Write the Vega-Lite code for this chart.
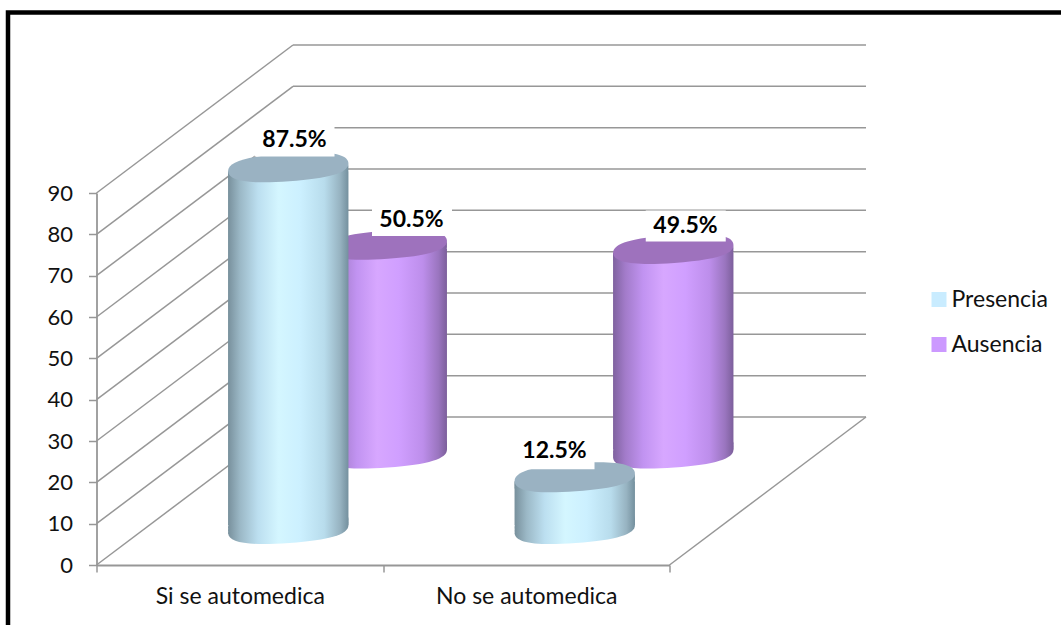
{
  "$schema": "https://vega.github.io/schema/vega-lite/v6.json",
  "width": 573,
  "height": 372,
  "autosize": {"type": "none"},
  "padding": {"left": 96.5, "top": 193, "right": 391.5, "bottom": 60},
  "background": "white",
  "config": {"view": {"stroke": null}, "font": "Lato"},
  "datasets": {
    "results": [
      {"category": "Si se automedica", "series": "Presencia", "value": 87.5, "label": "87.5%"},
      {"category": "Si se automedica", "series": "Ausencia", "value": 50.5, "label": "50.5%"},
      {"category": "No se automedica", "series": "Presencia", "value": 12.5, "label": "12.5%"},
      {"category": "No se automedica", "series": "Ausencia", "value": 49.5, "label": "49.5%"}
    ],
    "levels": [
      {"v": 0}, {"v": 10}, {"v": 20}, {"v": 30}, {"v": 40},
      {"v": 50}, {"v": 60}, {"v": 70}, {"v": 80}, {"v": 90}
    ]
  },
  "layer": [
    {
      "description": "Outer frame of the figure",
      "data": {"values": [{"frame": 1}]},
      "mark": {"type": "rect", "fill": null, "fillOpacity": 0, "stroke": "black", "strokeWidth": 4.5},
      "encoding": {
        "x": {"value": -88.5},
        "x2": {"value": 1000},
        "y": {"value": -180.5},
        "y2": {"value": 460}
      }
    },
    {
      "description": "Back wall gridlines, with the value axis",
      "data": {"name": "levels"},
      "mark": {"type": "rule", "color": "#979797", "strokeWidth": 1.5, "yOffset": -148},
      "encoding": {
        "x": {"value": 196.5},
        "x2": {"value": 769.5},
        "y": {
          "field": "v",
          "type": "quantitative",
          "scale": {"domain": [0, 90], "nice": false, "zero": false},
          "axis": {
            "title": null,
            "values": [0, 10, 20, 30, 40, 50, 60, 70, 80, 90],
            "grid": false,
            "domainColor": "#979797",
            "domainWidth": 1.8,
            "tickColor": "#979797",
            "tickWidth": 1.5,
            "tickSize": 8,
            "labelFontSize": 22,
            "labelColor": "#111111",
            "labelPadding": 16
          }
        }
      }
    },
    {
      "description": "Side wall diagonals running back from the value axis",
      "data": {"name": "levels"},
      "mark": {"type": "rule", "color": "#979797", "strokeWidth": 1.5, "y2Offset": -148},
      "encoding": {
        "x": {"value": 0},
        "x2": {"value": 196.5},
        "y": {"field": "v", "type": "quantitative"},
        "y2": {"field": "v"}
      }
    },
    {
      "description": "Right edge of the floor",
      "data": {"values": [{"v": 0}]},
      "mark": {"type": "rule", "color": "#979797", "strokeWidth": 1.5, "y2Offset": -148},
      "encoding": {
        "x": {"value": 573},
        "x2": {"value": 769.5},
        "y": {"field": "v", "type": "quantitative"},
        "y2": {"field": "v"}
      }
    },
    {
      "description": "Cylinders and their labels",
      "data": {"name": "results"},
      "encoding": {
        "x": {
          "field": "category",
          "type": "nominal",
          "sort": ["Si se automedica", "No se automedica"],
          "scale": {
            "type": "band",
            "domain": ["Si se automedica", "No se automedica"],
            "paddingInner": 0,
            "paddingOuter": 0
          },
          "axis": {
            "title": null,
            "labelAngle": 0,
            "labelLimit": 400,
            "domainColor": "#979797",
            "domainWidth": 1.8,
            "tickColor": "#979797",
            "tickWidth": 1.5,
            "tickSize": 7,
            "tickBand": "extent",
            "labelFontSize": 23,
            "labelColor": "#111111",
            "labelPadding": 13
          }
        },
        "y": {"field": "value", "type": "quantitative"}
      },
      "layer": [
        {
          "transform": [{"filter": "datum.series === 'Ausencia'"}],
          "layer": [
            {
              "mark": {"type": "point", "filled": true, "opacity": 1, "size": 14544, "xOffset": 147, "yOffset": -111.5,
                "shape": "M-0.9976,0.0698 C-1.0087,-0.0882 -0.6947,-0.1849 -0.0163,-0.2324 C0.6621,-0.2799 0.9865,-0.2278 0.9976,-0.0698 C1.0087,0.0882 0.6947,0.1849 0.0163,0.2324 C-0.6621,0.2799 -0.9865,0.2278 -0.9976,0.0698 Z",
                "fill": {"gradient": "linear", "x1": 0, "x2": 1, "y1": 0, "y2": 0, "stops": [{"offset": 0, "color": "#7f629f"}, {"offset": 0.1, "color": "#a27bc9"}, {"offset": 0.25, "color": "#c193f1"}, {"offset": 0.42, "color": "#d7a7ff"}, {"offset": 0.6, "color": "#d09fff"}, {"offset": 0.8, "color": "#bd8eeb"}, {"offset": 0.93, "color": "#9a75bf"}, {"offset": 1, "color": "#7c5f9b"}]}},
              "encoding": {"y": {"datum": 0, "type": "quantitative"}}
            },
            {
              "mark": {"type": "point", "filled": true, "opacity": 1, "size": 14544, "xOffset": 147, "yOffset": -114.5,
                "shape": "M-0.9976,0.0698 C-1.0087,-0.0882 -0.6947,-0.1849 -0.0163,-0.2324 C0.6621,-0.2799 0.9865,-0.2278 0.9976,-0.0698 C1.0087,0.0882 0.6947,0.1849 0.0163,0.2324 C-0.6621,0.2799 -0.9865,0.2278 -0.9976,0.0698 Z",
                "fill": {"gradient": "linear", "x1": 0, "x2": 1, "y1": 0, "y2": 0, "stops": [{"offset": 0, "color": "#7f629f"}, {"offset": 0.1, "color": "#a27bc9"}, {"offset": 0.25, "color": "#c193f1"}, {"offset": 0.42, "color": "#d7a7ff"}, {"offset": 0.6, "color": "#d09fff"}, {"offset": 0.8, "color": "#bd8eeb"}, {"offset": 0.93, "color": "#9a75bf"}, {"offset": 1, "color": "#7c5f9b"}]}},
              "encoding": {"y": {"datum": 0, "type": "quantitative"}}
            },
            {
              "mark": {"type": "point", "filled": true, "opacity": 1, "size": 14544, "xOffset": 147, "yOffset": -117.5,
                "shape": "M-0.9976,0.0698 C-1.0087,-0.0882 -0.6947,-0.1849 -0.0163,-0.2324 C0.6621,-0.2799 0.9865,-0.2278 0.9976,-0.0698 C1.0087,0.0882 0.6947,0.1849 0.0163,0.2324 C-0.6621,0.2799 -0.9865,0.2278 -0.9976,0.0698 Z",
                "fill": {"gradient": "linear", "x1": 0, "x2": 1, "y1": 0, "y2": 0, "stops": [{"offset": 0, "color": "#7f629f"}, {"offset": 0.1, "color": "#a27bc9"}, {"offset": 0.25, "color": "#c193f1"}, {"offset": 0.42, "color": "#d7a7ff"}, {"offset": 0.6, "color": "#d09fff"}, {"offset": 0.8, "color": "#bd8eeb"}, {"offset": 0.93, "color": "#9a75bf"}, {"offset": 1, "color": "#7c5f9b"}]}},
              "encoding": {"y": {"datum": 0, "type": "quantitative"}}
            },
            {
              "mark": {"type": "bar", "width": 120.4, "xOffset": 147, "yOffset": -107.5, "y2Offset": -115.5,
                "fill": {"gradient": "linear", "x1": 0, "x2": 1, "y1": 0, "y2": 0, "stops": [{"offset": 0, "color": "#7f629f"}, {"offset": 0.1, "color": "#a27bc9"}, {"offset": 0.25, "color": "#c193f1"}, {"offset": 0.42, "color": "#d7a7ff"}, {"offset": 0.6, "color": "#d09fff"}, {"offset": 0.8, "color": "#bd8eeb"}, {"offset": 0.93, "color": "#9a75bf"}, {"offset": 1, "color": "#7c5f9b"}]}},
              "encoding": {"y2": {"datum": 0}}
            },
            {
              "mark": {"type": "point", "filled": true, "opacity": 1, "size": 14544, "xOffset": 147, "yOffset": -105.5,
                "shape": "M-0.9976,0.0698 C-1.0087,-0.0882 -0.6947,-0.1849 -0.0163,-0.2324 C0.6621,-0.2799 0.9865,-0.2278 0.9976,-0.0698 C1.0087,0.0882 0.6947,0.1849 0.0163,0.2324 C-0.6621,0.2799 -0.9865,0.2278 -0.9976,0.0698 Z",
                "fill": {"gradient": "linear", "x1": 0, "x2": 1, "y1": 0, "y2": 0, "stops": [{"offset": 0, "color": "#7f629f"}, {"offset": 0.1, "color": "#a27bc9"}, {"offset": 0.25, "color": "#c193f1"}, {"offset": 0.42, "color": "#d7a7ff"}, {"offset": 0.6, "color": "#d09fff"}, {"offset": 0.8, "color": "#bd8eeb"}, {"offset": 0.93, "color": "#9a75bf"}, {"offset": 1, "color": "#7c5f9b"}]}}
            },
            {
              "mark": {"type": "point", "filled": true, "opacity": 1, "size": 14544, "xOffset": 147, "yOffset": -108.5,
                "shape": "M-0.9976,0.0698 C-1.0087,-0.0882 -0.6947,-0.1849 -0.0163,-0.2324 C0.6621,-0.2799 0.9865,-0.2278 0.9976,-0.0698 C1.0087,0.0882 0.6947,0.1849 0.0163,0.2324 C-0.6621,0.2799 -0.9865,0.2278 -0.9976,0.0698 Z",
                "fill": {"gradient": "linear", "x1": 0, "x2": 1, "y1": 0, "y2": 0, "stops": [{"offset": 0, "color": "#7f629f"}, {"offset": 0.1, "color": "#a27bc9"}, {"offset": 0.25, "color": "#c193f1"}, {"offset": 0.42, "color": "#d7a7ff"}, {"offset": 0.6, "color": "#d09fff"}, {"offset": 0.8, "color": "#bd8eeb"}, {"offset": 0.93, "color": "#9a75bf"}, {"offset": 1, "color": "#7c5f9b"}]}}
            },
            {
              "mark": {"type": "point", "filled": true, "opacity": 1, "size": 14544, "xOffset": 147, "yOffset": -111.5, "fill": "#9e72bd",
                "shape": "M-0.9976,0.0698 C-1.0087,-0.0882 -0.6947,-0.1849 -0.0163,-0.2324 C0.6621,-0.2799 0.9865,-0.2278 0.9976,-0.0698 C1.0087,0.0882 0.6947,0.1849 0.0163,0.2324 C-0.6621,0.2799 -0.9865,0.2278 -0.9976,0.0698 Z"}
            }
          ]
        },
        {
          "transform": [{"filter": "datum.series === 'Presencia'"}],
          "layer": [
            {
              "mark": {"type": "point", "filled": true, "opacity": 1, "size": 14544, "xOffset": 48.5, "yOffset": -36,
                "shape": "M-0.9976,0.0698 C-1.0087,-0.0882 -0.6947,-0.1849 -0.0163,-0.2324 C0.6621,-0.2799 0.9865,-0.2278 0.9976,-0.0698 C1.0087,0.0882 0.6947,0.1849 0.0163,0.2324 C-0.6621,0.2799 -0.9865,0.2278 -0.9976,0.0698 Z",
                "fill": {"gradient": "linear", "x1": 0, "x2": 1, "y1": 0, "y2": 0, "stops": [{"offset": 0, "color": "#78909c"}, {"offset": 0.1, "color": "#9bb8c6"}, {"offset": 0.25, "color": "#bcdff0"}, {"offset": 0.42, "color": "#d4f6ff"}, {"offset": 0.6, "color": "#ccf0ff"}, {"offset": 0.8, "color": "#b8dcec"}, {"offset": 0.93, "color": "#97b3c1"}, {"offset": 1, "color": "#74909e"}]}},
              "encoding": {"y": {"datum": 0, "type": "quantitative"}}
            },
            {
              "mark": {"type": "point", "filled": true, "opacity": 1, "size": 14544, "xOffset": 48.5, "yOffset": -39,
                "shape": "M-0.9976,0.0698 C-1.0087,-0.0882 -0.6947,-0.1849 -0.0163,-0.2324 C0.6621,-0.2799 0.9865,-0.2278 0.9976,-0.0698 C1.0087,0.0882 0.6947,0.1849 0.0163,0.2324 C-0.6621,0.2799 -0.9865,0.2278 -0.9976,0.0698 Z",
                "fill": {"gradient": "linear", "x1": 0, "x2": 1, "y1": 0, "y2": 0, "stops": [{"offset": 0, "color": "#78909c"}, {"offset": 0.1, "color": "#9bb8c6"}, {"offset": 0.25, "color": "#bcdff0"}, {"offset": 0.42, "color": "#d4f6ff"}, {"offset": 0.6, "color": "#ccf0ff"}, {"offset": 0.8, "color": "#b8dcec"}, {"offset": 0.93, "color": "#97b3c1"}, {"offset": 1, "color": "#74909e"}]}},
              "encoding": {"y": {"datum": 0, "type": "quantitative"}}
            },
            {
              "mark": {"type": "point", "filled": true, "opacity": 1, "size": 14544, "xOffset": 48.5, "yOffset": -42,
                "shape": "M-0.9976,0.0698 C-1.0087,-0.0882 -0.6947,-0.1849 -0.0163,-0.2324 C0.6621,-0.2799 0.9865,-0.2278 0.9976,-0.0698 C1.0087,0.0882 0.6947,0.1849 0.0163,0.2324 C-0.6621,0.2799 -0.9865,0.2278 -0.9976,0.0698 Z",
                "fill": {"gradient": "linear", "x1": 0, "x2": 1, "y1": 0, "y2": 0, "stops": [{"offset": 0, "color": "#78909c"}, {"offset": 0.1, "color": "#9bb8c6"}, {"offset": 0.25, "color": "#bcdff0"}, {"offset": 0.42, "color": "#d4f6ff"}, {"offset": 0.6, "color": "#ccf0ff"}, {"offset": 0.8, "color": "#b8dcec"}, {"offset": 0.93, "color": "#97b3c1"}, {"offset": 1, "color": "#74909e"}]}},
              "encoding": {"y": {"datum": 0, "type": "quantitative"}}
            },
            {
              "mark": {"type": "bar", "width": 120.4, "xOffset": 48.5, "yOffset": -32, "y2Offset": -40,
                "fill": {"gradient": "linear", "x1": 0, "x2": 1, "y1": 0, "y2": 0, "stops": [{"offset": 0, "color": "#78909c"}, {"offset": 0.1, "color": "#9bb8c6"}, {"offset": 0.25, "color": "#bcdff0"}, {"offset": 0.42, "color": "#d4f6ff"}, {"offset": 0.6, "color": "#ccf0ff"}, {"offset": 0.8, "color": "#b8dcec"}, {"offset": 0.93, "color": "#97b3c1"}, {"offset": 1, "color": "#74909e"}]}},
              "encoding": {"y2": {"datum": 0}}
            },
            {
              "mark": {"type": "point", "filled": true, "opacity": 1, "size": 14544, "xOffset": 48.5, "yOffset": -30,
                "shape": "M-0.9976,0.0698 C-1.0087,-0.0882 -0.6947,-0.1849 -0.0163,-0.2324 C0.6621,-0.2799 0.9865,-0.2278 0.9976,-0.0698 C1.0087,0.0882 0.6947,0.1849 0.0163,0.2324 C-0.6621,0.2799 -0.9865,0.2278 -0.9976,0.0698 Z",
                "fill": {"gradient": "linear", "x1": 0, "x2": 1, "y1": 0, "y2": 0, "stops": [{"offset": 0, "color": "#78909c"}, {"offset": 0.1, "color": "#9bb8c6"}, {"offset": 0.25, "color": "#bcdff0"}, {"offset": 0.42, "color": "#d4f6ff"}, {"offset": 0.6, "color": "#ccf0ff"}, {"offset": 0.8, "color": "#b8dcec"}, {"offset": 0.93, "color": "#97b3c1"}, {"offset": 1, "color": "#74909e"}]}}
            },
            {
              "mark": {"type": "point", "filled": true, "opacity": 1, "size": 14544, "xOffset": 48.5, "yOffset": -33,
                "shape": "M-0.9976,0.0698 C-1.0087,-0.0882 -0.6947,-0.1849 -0.0163,-0.2324 C0.6621,-0.2799 0.9865,-0.2278 0.9976,-0.0698 C1.0087,0.0882 0.6947,0.1849 0.0163,0.2324 C-0.6621,0.2799 -0.9865,0.2278 -0.9976,0.0698 Z",
                "fill": {"gradient": "linear", "x1": 0, "x2": 1, "y1": 0, "y2": 0, "stops": [{"offset": 0, "color": "#78909c"}, {"offset": 0.1, "color": "#9bb8c6"}, {"offset": 0.25, "color": "#bcdff0"}, {"offset": 0.42, "color": "#d4f6ff"}, {"offset": 0.6, "color": "#ccf0ff"}, {"offset": 0.8, "color": "#b8dcec"}, {"offset": 0.93, "color": "#97b3c1"}, {"offset": 1, "color": "#74909e"}]}}
            },
            {
              "mark": {"type": "point", "filled": true, "opacity": 1, "size": 14544, "xOffset": 48.5, "yOffset": -36, "fill": "#9ab2c2",
                "shape": "M-0.9976,0.0698 C-1.0087,-0.0882 -0.6947,-0.1849 -0.0163,-0.2324 C0.6621,-0.2799 0.9865,-0.2278 0.9976,-0.0698 C1.0087,0.0882 0.6947,0.1849 0.0163,0.2324 C-0.6621,0.2799 -0.9865,0.2278 -0.9976,0.0698 Z"}
            }
          ]
        },
        {
          "description": "Zero-size points that carry the series legend",
          "mark": {"type": "point", "filled": true, "shape": "square", "size": 0, "opacity": 1},
          "encoding": {
            "color": {
              "field": "series",
              "type": "nominal",
              "scale": {"domain": ["Presencia", "Ausencia"], "range": ["#c9ecff", "#cc99ff"]},
              "legend": {
                "title": null,
                "orient": "none",
                "legendX": 831,
                "legendY": 95,
                "padding": 0,
                "symbolType": "square",
                "symbolSize": 225,
                "symbolStrokeWidth": 0,
                "labelFontSize": 23,
                "labelColor": "#111111",
                "labelOffset": 1,
                "rowPadding": 21
              }
            }
          }
        },
        {
          "transform": [{"filter": "datum.value === 87.5"}],
          "layer": [
            {
              "mark": {"type": "point", "filled": true, "opacity": 1, "fill": "white", "size": 6400, "xOffset": 54.75, "yOffset": -62.4, "shape": "M-1,-0.39 H1 V0.39 H-1 Z"}
            },
            {
              "mark": {"type": "text", "fontWeight": "bold", "fontSize": 23, "color": "black", "dx": 54.75, "dy": -63.4, "baseline": "middle"},
              "encoding": {"text": {"field": "label"}}
            }
          ]
        },
        {
          "transform": [{"filter": "datum.value === 50.5"}],
          "layer": [
            {
              "mark": {"type": "point", "filled": true, "opacity": 1, "fill": "white", "size": 6400, "xOffset": 172.25, "yOffset": -135.9, "shape": "M-1,-0.39 H1 V0.39 H-1 Z"}
            },
            {
              "mark": {"type": "text", "fontWeight": "bold", "fontSize": 23, "color": "black", "dx": 171.75, "dy": -136.3, "baseline": "middle"},
              "encoding": {"text": {"field": "label"}}
            }
          ]
        },
        {
          "transform": [{"filter": "datum.value === 49.5"}],
          "layer": [
            {
              "mark": {"type": "point", "filled": true, "opacity": 1, "fill": "white", "size": 6400, "xOffset": 159.5, "yOffset": -134.4, "shape": "M-1,-0.39 H1 V0.39 H-1 Z"}
            },
            {
              "mark": {"type": "text", "fontWeight": "bold", "fontSize": 23, "color": "black", "dx": 159.25, "dy": -134.4, "baseline": "middle"},
              "encoding": {"text": {"field": "label"}}
            }
          ]
        },
        {
          "transform": [{"filter": "datum.value === 12.5"}],
          "layer": [
            {
              "mark": {"type": "point", "filled": true, "opacity": 1, "fill": "white", "size": 6400, "xOffset": 28.25, "yOffset": -59.6, "shape": "M-1,-0.39 H1 V0.39 H-1 Z"}
            },
            {
              "mark": {"type": "text", "fontWeight": "bold", "fontSize": 23, "color": "black", "dx": 28.25, "dy": -62.3, "baseline": "middle"},
              "encoding": {"text": {"field": "label"}}
            }
          ]
        }
      ]
    }
  ]
}
